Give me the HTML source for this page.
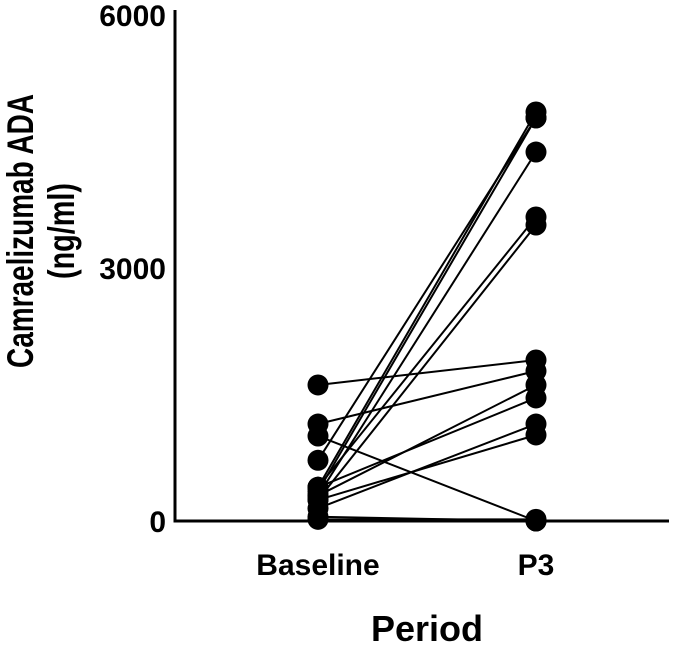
<!DOCTYPE html>
<html><head><meta charset="utf-8"><style>
html,body{margin:0;padding:0;background:#fff;}
svg{display:block;font-family:"Liberation Sans",Arial,sans-serif;font-weight:bold;}
</style></head><body>
<svg id="chart" width="687" height="647">
<g id="lines"></g>
<g id="points"></g>
<line x1="175" y1="10" x2="175" y2="522" stroke="#000" stroke-width="3"/>
<line x1="173.5" y1="521" x2="669" y2="521" stroke="#000" stroke-width="3"/>
<g id="yticks"></g>
<text x="318" y="575" font-size="30" text-anchor="middle">Baseline</text>
<text x="536" y="575" font-size="30" text-anchor="middle">P3</text>
<text x="427" y="641" font-size="36" text-anchor="middle">Period</text>
<g transform="translate(33,231) rotate(-90)">
<text x="0" y="0" font-size="37" text-anchor="middle" textLength="274" lengthAdjust="spacingAndGlyphs">Camraelizumab ADA</text>
<text x="0" y="41" font-size="37" text-anchor="middle" textLength="96" lengthAdjust="spacingAndGlyphs">(ng/ml)</text>
</g>
</svg>
<script>
const baseline = [1613, 1150, 1008, 720, 400, 350, 300, 400, 250, 300, 400, 150, 250, 50, 20];
const p3 = [1909, 1779, 0, 4780, 4850, 4780, 4375, 3605, 3510, 1613, 1459, 1150, 1020, 0, 20];
const yTicks = [0, 3000, 6000];
const xCats = ["Baseline", "P3"];
const NS = "http://www.w3.org/2000/svg";
function yScale(v){ return 521 - v / 6000 * 506; }
function xScale(i){ return i === 0 ? 318 : 536; }
const lines = document.getElementById('lines');
const pts = document.getElementById('points');
const yt = document.getElementById('yticks');
yTicks.forEach(t => {
  const tx = document.createElementNS(NS, 'text');
  tx.setAttribute('x', 166); tx.setAttribute('y', yScale(t) + 11);
  tx.setAttribute('font-size', '30'); tx.setAttribute('text-anchor', 'end');
  tx.textContent = t;
  
  
  yt.appendChild(tx);
});
baseline.forEach((b, i) => {
  const l = document.createElementNS(NS, 'line');
  l.setAttribute('x1', xScale(0)); l.setAttribute('y1', yScale(b));
  l.setAttribute('x2', xScale(1)); l.setAttribute('y2', yScale(p3[i]));
  l.setAttribute('stroke', '#000'); l.setAttribute('stroke-width', '2');
  
  
  lines.appendChild(l);
  [b, p3[i]].forEach((v, k) => {
    const c = document.createElementNS(NS, 'circle');
    c.setAttribute('cx', xScale(k)); c.setAttribute('cy', yScale(v));
    c.setAttribute('r', '10.5'); c.setAttribute('fill', '#000');
    
    
    pts.appendChild(c);
  });
});
</script>
</body></html>
